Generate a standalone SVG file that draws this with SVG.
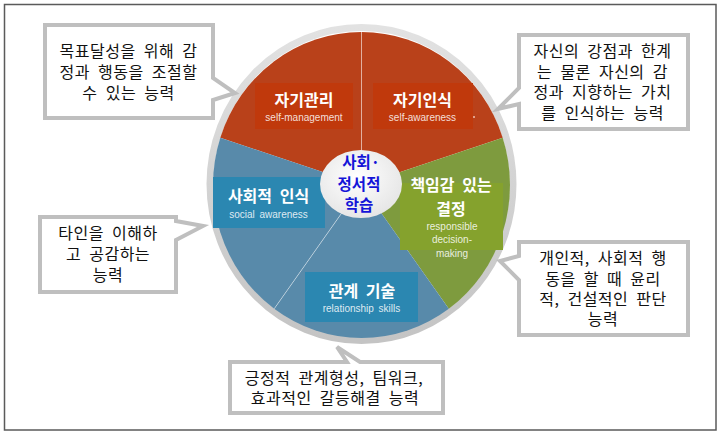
<svg xmlns="http://www.w3.org/2000/svg" width="720" height="433" viewBox="0 0 720 433">
<defs>
<style>
.co{fill:#fff;stroke:#bfbfbf;stroke-width:4;stroke-linejoin:miter}
.ct{font-family:"Noto Sans CJK KR","Noto Sans",sans-serif;font-size:16px;letter-spacing:0.5px;word-spacing:4px;fill:#111;text-anchor:middle}
.tt{font-family:"Noto Sans CJK KR","Noto Sans",sans-serif;font-size:16px;font-weight:bold;fill:#fff;text-anchor:middle}
.st{font-family:"Liberation Sans",Arial,sans-serif;font-size:10px;fill:#fff;fill-opacity:0.85;text-anchor:middle;word-spacing:2px}
.cen{font-family:"Noto Sans CJK KR","Noto Sans",sans-serif;font-size:15.5px;font-weight:bold;fill:#1414d8;text-anchor:middle}
.div{stroke:#ffffff;stroke-opacity:0.45;stroke-width:1;fill:none}
</style>
<radialGradient id="cg" cx="0.45" cy="0.4" r="0.65">
<stop offset="0" stop-color="#ffffff"/>
<stop offset="1" stop-color="#e4e4e4"/>
</radialGradient>
<linearGradient id="rg" x1="0" y1="0" x2="0" y2="1">
<stop offset="0" stop-color="#e2e2e2"/>
<stop offset="1" stop-color="#c4c4c4"/>
</linearGradient>
</defs>
<rect x="0" y="0" width="720" height="433" fill="#fff"/>
<rect x="4.5" y="4.5" width="711.5" height="425.5" fill="none" stroke="#5a5a5a" stroke-width="1.5"/>

<g id="wheel">
<ellipse cx="361.5" cy="184" rx="151.5" ry="156.5" fill="none" stroke="url(#rg)" stroke-width="7"/>
<path id="sec-self-management" d="M361.5,185 L220.3,137.7 A148.5,153 0 0 1 361.5,32 Z" fill="#b9411a"/>
<path id="sec-self-awareness" d="M361.5,185 L361.5,32 A148.5,153 0 0 1 502.7,137.7 Z" fill="#b9411a"/>
<path id="sec-decision" d="M361.5,185 L502.7,137.7 A148.5,153 0 0 1 448.8,308.8 Z" fill="#7e9b3e"/>
<path id="sec-relationship" d="M361.5,185 L448.8,308.8 A148.5,153 0 0 1 274.2,308.8 Z" fill="#588aaa"/>
<path id="sec-social" d="M361.5,185 L274.2,308.8 A148.5,153 0 0 1 220.3,137.7 Z" fill="#588aaa"/>
<line class="div" x1="361.5" y1="185" x2="361.5" y2="32"/>
<line class="div" x1="361.5" y1="185" x2="274.2" y2="308.8"/>
</g>

<g id="node-self-management">
<rect x="255" y="83" width="98" height="46" fill="#c0390c"/>
<text class="tt" x="304" y="106">자기관리</text>
<text class="st" x="304" y="121">self-management</text>
</g>
<g id="node-self-awareness">
<rect x="373" y="83" width="100" height="46" fill="#c0390c"/>
<text class="tt" x="422.5" y="106">자기인식</text>
<text class="st" x="422.5" y="121">self-awareness</text>
<circle cx="474" cy="117" r="1" fill="#f0c0b0"/>
</g>
<g id="node-social-awareness">
<rect x="213" y="177" width="112" height="51" fill="#2b87b1"/>
<text class="tt" x="268.5" y="202" style="word-spacing:4px">사회적 인식</text>
<text class="st" x="268.5" y="218">social awareness</text>
</g>
<g id="node-relationship">
<rect x="305" y="272" width="113" height="50" fill="#2b87b1"/>
<text class="tt" x="362" y="297" style="word-spacing:4px">관계 기술</text>
<text class="st" x="361.5" y="312">relationship skills</text>
</g>
<g id="node-decision">
<rect x="400" y="183" width="103" height="67" fill="#85a22d"/>
<text class="tt" x="451" y="191" style="word-spacing:4px">책임감 있는</text>
<text class="tt" x="451" y="215">결정</text>
<text class="st" x="452" y="230">responsible</text>
<text class="st" x="452" y="243">decision-</text>
<text class="st" x="452" y="257">making</text>
</g>
<g id="node-center">
<ellipse cx="361" cy="184" rx="41" ry="34" fill="url(#cg)"/>
<text class="cen" x="361" y="168">사회·</text>
<text class="cen" x="359" y="190">정서적</text>
<text class="cen" x="359" y="211">학습</text>
</g>

<g id="connectors">
<path id="callout-tl-shape" class="co" d="M45,25 H213 V78 L235,93 L213,100 V118 H45 Z"/>
<path id="callout-tr-shape" class="co" d="M519,35 H688 V129 H519 V104 L498,109 L519,88 Z"/>
<path id="callout-ml-shape" class="co" d="M40,217 H176 V221 L203,226 L176,240 V292 H40 Z"/>
<path id="callout-b-shape" class="co" d="M230,362 H347 L337,347 L360,362 H443 V413 H230 Z"/>
<path id="callout-br-shape" class="co" d="M519,242 H688 V335 H519 V280 L500,261 L519,256 Z"/>
</g>

<g id="callout-self-management">
<text class="ct" x="128.5" y="57">목표달성을 위해 감</text>
<text class="ct" x="128.5" y="78">정과 행동을 조절할</text>
<text class="ct" x="128.5" y="99">수 있는 능력</text>
</g>
<g id="callout-self-awareness">
<text class="ct" x="602.5" y="57">자신의 강점과 한계</text>
<text class="ct" x="602.5" y="77.7">는 물론 자신의 감</text>
<text class="ct" x="602.5" y="98.3">정과 지향하는 가치</text>
<text class="ct" x="602.5" y="119">를 인식하는 능력</text>
</g>
<g id="callout-social-awareness">
<text class="ct" x="108" y="239">타인을 이해하</text>
<text class="ct" x="108" y="260">고 공감하는</text>
<text class="ct" x="108" y="281">능력</text>
</g>
<g id="callout-relationship">
<text class="ct" x="334" y="384">긍정적 관계형성, 팀워크,</text>
<text class="ct" x="335" y="404">효과적인 갈등해결 능력</text>
</g>
<g id="callout-decision">
<text class="ct" x="603" y="264">개인적, 사회적 행</text>
<text class="ct" x="603" y="284.5">동을 할 때 윤리</text>
<text class="ct" x="603" y="305">적, 건설적인 판단</text>
<text class="ct" x="603" y="325">능력</text>
</g>
</svg>
